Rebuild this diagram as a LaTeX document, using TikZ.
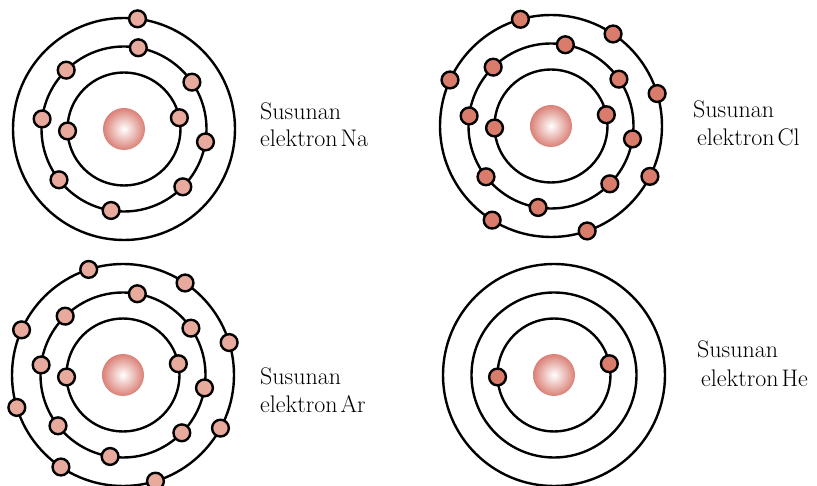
\documentclass[tikz,border=0pt]{standalone}
\definecolor{elpink}{RGB}{232,170,156}
\definecolor{elred}{RGB}{218,124,108}
\definecolor{nucl}{RGB}{218,128,118}
\newcommand\labfont{\fontsize{24}{27}\selectfont\spaceskip=3pt\relax}
\begin{document}
\begin{tikzpicture}[x=1pt, y=1pt, line width=2.4pt,
    elec/.style={draw=black, fill=#1},
    txt/.style={anchor=base west, inner sep=0pt, font=\labfont}]
  \useasboundingbox (0,0) rectangle (817,485);
  \coordinate (na) at (124,356);
  \coordinate (cl) at (551,359);
  \coordinate (ar) at (123,110);
  \coordinate (he) at (554,110);
  % orbits and nuclei
  \foreach \c in {na,cl,ar,he} {
    \foreach \r in {56.5,82.5,111} \draw (\c) circle (\r);
    \shade[inner color=white, outer color=nucl] (\c) circle (21);
  }
  % inner shell
  \foreach \c/\col in {na/elpink, cl/elred, ar/elpink, he/elred}
    \foreach \a in {182,11.5} \filldraw[elec=\col, shift={(\c)}] (\a:56.5) circle (8.4);
  % second shell
  \foreach \c/\col in {na/elpink, cl/elred, ar/elpink}
    \foreach \a in {134.5,80,34.6,-9,-44.5,-99,-142,173}
      \filldraw[elec=\col, shift={(\c)}] (\a:82.5) circle (8.4);
  % outer shell
  \filldraw[elec=elpink, shift={(na)}] (83:111) circle (8.4);
  \foreach \a in {106,56,17,-27,-71,-122,155.5}
    \filldraw[elec=elred, shift={(cl)}] (\a:111) circle (8.4);
  \foreach \a in {108,56,17,-28.6,-73,-124,-163,156}
    \filldraw[elec=elpink, shift={(ar)}] (\a:111) circle (8.4);
  % labels
  \node[txt] (naA) at (259,365) {Susunan};
  \node[txt] (naB) at (259,338) {elektron Na};
  \node[txt] (clA) at (692,367) {Susunan};
  \node[txt] (clB) at (696,339) {elektron Cl};
  \node[txt] (arA) at (259,100) {Susunan};
  \node[txt] (arB) at (259,73) {elektron Ar};
  \node[txt] (heA) at (696,127) {Susunan};
  \node[txt] (heB) at (700,98) {elektron He};
\end{tikzpicture}
\end{document}
